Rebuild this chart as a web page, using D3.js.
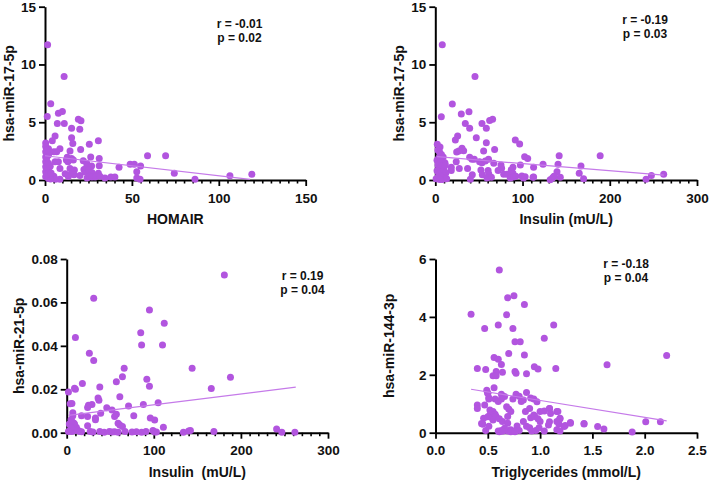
<!DOCTYPE html>
<html>
<head>
<meta charset="utf-8">
<script src="https://cdn.jsdelivr.net/npm/d3@7"></script>
<style>
  html, body { margin: 0; padding: 0; background: #fff; }
  svg { display: block; }
  text { font-family: "Liberation Sans", Arial, Helvetica, sans-serif; font-weight: bold; fill: #111; }
</style>
</head>
<body>
<svg id="chart" width="709" height="480"></svg>
<script>
// ---------- DATA ----------
// Panel A: HOMAIR vs hsa-miR-17-5p
const homaX = [1.5, 11, 3.3, 1.3, 7.7, 10, 19.2, 20.7, 7.1, 11.1, 15.3, 20, 5.8, 4.2, 15.3, 16, 30.7, 25.5, 0.4, 0.4, 0.4, 0.4, 0.4, 0.4, 0.4, 0.4, 2, 2, 2, 2, 2, 8.6, 6.7, 14.4, 20.5, 5.1, 12.8, 15.3, 16.3, 26.3, 31.2, 22, 24, 5.8, 7.7, 12.3, 13.2, 59, 69.4, 49, 51.4, 55, 42.6, 31.2, 26.8, 16.9, 14.4, 8.6, 22.4, 23, 24, 25.2, 27, 30.7, 11.6, 15, 16.7, 20.1, 52.8, 74.4, 86.3, 106.4, 119, 8.6, 13.4, 24.2, 25.7, 27, 28.9, 31.6, 34.5, 37.9, 40.2, 52.8, 54.7, 5.1, 6, 3.2, 1, 1.2, 3, 1, 3.5, 2.5, 1];
const mir17aY = [11.7, 8.95, 6.6, 5.5, 5.77, 5.92, 5.25, 5.13, 4.9, 4.9, 4.47, 4.4, 3.8, 3.4, 3.66, 3.17, 3.4, 3.09, 3.2, 2.9, 2.45, 2.0, 1.58, 1.15, 0.72, 0.29, 2.7, 2.16, 1.44, 0.86, 0.14, 2.7, 2.45, 2.5, 2.65, 2.45, 1.96, 1.87, 1.73, 2.0, 1.87, 1.67, 1.44, 1.58, 1.58, 1.73, 1.58, 2.1, 2.1, 1.36, 1.36, 1.21, 1.1, 1.24, 1.21, 0.87, 1.0, 1.0, 0.9, 0.7, 1.1, 0.87, 0.64, 0.58, 0.55, 0.52, 0.46, 0.4, 0.72, 0.58, 0.06, 0.37, 0.49, 0.06, 0.3, 0.17, 0.32, 0.26, 0.26, 0.32, 0.17, 0.26, 0.26, 0.17, 0.06, 0.32, 0.06, 0.09, 1.9, 1.0, 1.2, 0.5, 0.6, 2.4, 2.6];
const homaFitX = [0, 118];
const homaFitY = [2.1, 0.05];

// Panel B: Insulin vs hsa-miR-17-5p
const ins1X = [8, 45.5, 19.5, 6.9, 29.8, 38.6, 34.4, 39.4, 53.5, 58.5, 62.3, 65.7, 25.6, 23, 47, 58.5, 91.7, 96.7, 2.3, 5.4, 30.6, 32.5, 24.5, 27, 55.4, 68, 39.4, 42, 44.7, 24, 50.8, 53.5, 57.3, 61, 67, 102.4, 105.9, 142, 189, 75.3, 76, 89, 97.5, 112.7, 123.5, 140.7, 167, 18.3, 18.3, 27.5, 37, 52.3, 60.5, 61.3, 72, 78.4, 82.2, 87, 89, 139.5, 165, 42.4, 53.9, 40.2, 59.3, 64.3, 85.9, 89.7, 92.3, 99.2, 101.1, 112.7, 131.7, 134.4, 136.3, 143.3, 170, 247.7, 261.8, 241.6, 135.7, 112, 103, 3, 5, 7, 9, 4, 2, 6, 11, 3, 8, 5, 10, 2, 7, 12, 4, 9, 6, 3, 11, 8, 13, 1, 5, 11.5];
const mir17bY = [11.7, 8.95, 6.58, 5.48, 5.71, 5.9, 4.9, 4.47, 4.9, 4.47, 5.14, 5.25, 3.81, 3.46, 3.66, 3.23, 3.46, 3.12, 3.1, 2.85, 2.74, 2.54, 2.42, 2.5, 2.51, 2.65, 1.96, 1.79, 1.79, 1.58, 1.58, 1.5, 1.65, 1.79, 1.44, 2.02, 1.87, 2.1, 2.1, 1.3, 1.01, 1.1, 1.3, 1.1, 1.36, 1.36, 1.21, 1.1, 0.82, 1.0, 1.0, 0.87, 0.82, 0.53, 0.82, 0.5, 0.5, 0.87, 0.58, 0.72, 0.58, 0.46, 0.46, 0.06, 0.17, 0.23, 0.17, 0.26, 0.32, 0.35, 0.17, 0.26, 0.02, 0.17, 0.32, 0.23, 0.1, 0.4, 0.49, 0.06, 0.29, 0.23, 0.29, 2.6, 2.4, 2.2, 2.0, 1.9, 1.7, 1.6, 1.5, 1.3, 1.2, 1.0, 0.9, 0.8, 0.7, 0.6, 0.5, 0.4, 0.3, 0.2, 0.15, 0.05, 0.1, 0.1, 0.05, 1.3];
const ins1FitX = [2, 262];
const ins1FitY = [2.02, 0.43];

// Panel C: Insulin vs hsa-miR-21-5p
const ins2X = [181, 31, 95, 112, 85, 86, 110, 10, 26, 31, 66, 144, 64, 188, 92, 57, 95, 166, 18, 38, 9, 10, 2, 61, 36, 37, 4, 6, 29, 25, 24, 71, 88, 105, 46, 52, 57, 55, 77, 39, 7, 7, 17, 24, 33, 33, 96, 101, 59, 61, 64, 24, 111, 3, 5, 6, 7, 8, 9, 10, 4, 6, 11, 12, 8, 5, 13, 15, 2, 241, 247, 262, 169, 134, 140, 142, 99, 101, 17, 27, 30, 38, 43, 49, 52, 55, 59, 67, 75, 80, 86, 91, 103];
const mir21Y = [0.0726, 0.0619, 0.0565, 0.0504, 0.046, 0.0404, 0.0404, 0.0439, 0.0366, 0.0332, 0.0297, 0.0297, 0.0258, 0.0255, 0.0246, 0.0235, 0.0214, 0.0204, 0.0227, 0.021, 0.0205, 0.020, 0.0187, 0.0165, 0.016, 0.015, 0.0133, 0.0135, 0.013, 0.0126, 0.0116, 0.0123, 0.013, 0.0138, 0.0115, 0.0105, 0.0085, 0.0075, 0.0078, 0.009, 0.0092, 0.0078, 0.0078, 0.0075, 0.0068, 0.006, 0.0068, 0.0058, 0.0043, 0.0035, 0.0028, 0.0032, 0.0025, 0.004, 0.006, 0.005, 0.003, 0.002, 0.004, 0.001, 0.001, 0.0005, 0.0025, 0.0015, 0.0045, 0.0025, 0.001, 0.0005, 0.0005, 0.0017, 0.0002, 0.0002, 0.0005, 0.0002, 0.0008, 0.001, 0.001, 0.0003, 0.0004, 0.0006, 0.0003, 0.0005, 0.0002, 0.0006, 0.0003, 0.0004, 0.0002, 0.0005, 0.0003, 0.0004, 0.0002, 0.0005, 0.0003];
const ins2FitX = [2, 263];
const ins2FitY = [0.008, 0.021];

// Panel D: Triglycerides vs hsa-miR-144-3p
const tgX = [0.61, 0.69, 0.75, 0.85, 0.34, 0.68, 0.47, 0.6, 0.74, 1.13, 0.76, 0.81, 1.04, 0.7, 0.85, 0.56, 0.6, 0.63, 0.4, 0.48, 0.58, 0.64, 0.55, 0.58, 0.76, 0.77, 0.87, 0.945, 0.98, 1.15, 1.64, 2.21, 2.01, 2.15, 1.88, 1.61, 1.55, 1.42, 1.29, 1.23, 1.19, 1.18, 1.16, 1.09, 1.09, 0.49, 0.56, 0.5, 0.51, 0.63, 0.66, 0.63, 0.77, 0.8, 0.82, 0.84, 0.87, 0.91, 0.74, 0.57, 0.51, 0.4, 0.4, 0.47, 0.6, 0.7, 0.68, 0.72, 0.52, 0.55, 0.57, 0.52, 0.54, 0.55, 0.58, 0.61, 0.64, 0.46, 0.45, 0.69, 0.69, 0.78, 0.86, 0.9, 0.94, 0.97, 0.91, 0.94, 1.0, 1.04, 0.95, 0.98, 1.0, 1.09, 1.1, 1.17, 1.16, 1.08, 1.19, 1.24, 1.29, 1.42, 0.84, 0.87, 0.9, 0.92, 0.96, 0.99, 1.04, 1.16, 1.19, 0.76, 0.8, 0.69, 0.72, 0.6, 0.63, 0.66, 0.48, 0.51, 0.44, 0.5, 0.5, 0.45, 0.61, 0.64, 0.72, 0.76];
const mir144Y = [5.62, 4.66, 4.73, 4.43, 4.09, 4.07, 3.6, 3.72, 3.6, 3.72, 3.14, 3.14, 3.26, 2.74, 2.68, 2.6, 2.54, 2.36, 2.22, 2.18, 2.11, 2.09, 1.97, 1.97, 2.11, 2.05, 2.04, 2.28, 2.2, 2.22, 2.35, 2.67, 0.38, 0.38, 0.02, 0.13, 0.21, 0.32, 0.35, 0.21, 0.5, 0.3, 0.73, 0.84, 0.38, 1.47, 1.55, 1.36, 1.21, 1.33, 1.25, 1.16, 1.33, 1.26, 1.08, 1.13, 1.39, 1.2, 1.16, 1.16, 1.16, 0.96, 0.84, 0.96, 1.08, 0.82, 0.9, 0.73, 0.78, 0.73, 0.64, 0.61, 0.52, 0.44, 0.56, 0.48, 0.39, 0.5, 0.3, 0.56, 0.33, 0.23, 0.73, 0.84, 1.16, 1.07, 0.52, 0.61, 0.73, 0.75, 0.56, 0.48, 0.39, 0.84, 0.66, 0.73, 0.39, 0.27, 0.48, 0.25, 0.33, 0.3, 0.39, 0.22, 0.17, 0.06, 0.08, 0.17, 0.06, 0.1, 0.06, 0.06, 0.08, 0.06, 0.1, 0.06, 0.08, 0.15, 0.08, 0.22, 0.32, 0.55, 1.36, 0.3, 0.03, 0.05, 0.03, 0.03];
const tgFitX = [0.34, 2.21];
const tgFitY = [1.5, 0.41];

// Tick labels
const xTicksA = [0, 50, 100, 150];
const xTicksB = [0, 100, 200, 300];
const xTicksD = [0, 0.5, 1.0, 1.5, 2.0, 2.5];
const yTicks17 = [0, 5, 10, 15];
const yTicks21 = [0, 0.02, 0.04, 0.06, 0.08];
const yTicks144 = [0, 2, 4, 6];

// Labels
const xTitles = ["HOMAIR", "Insulin (mU/L)", "Insulin  (mU/L)", "Triglycerides (mmol/L)"];
const yTitles = ["hsa-miR-17-5p", "hsa-miR-17-5p", "hsa-miR-21-5p", "hsa-miR-144-3p"];
const rTexts = ["r = -0.01", "r = -0.19", "r = 0.19", "r = -0.18"];
const pTexts = ["p = 0.02", "p = 0.03", "p = 0.04", "p = 0.04"];

// ---------- DRAWING ----------
const svg = d3.select("#chart");
const dotColor = "#b255df";
const lineColor = "#c57ae9";

const panels = [
  { xs: homaX, ys: mir17aY, fx: homaFitX, fy: homaFitY, xTicks: xTicksA, yTicks: yTicks17, minor: 5,
    xr: [45, 305.7], yr: [180, 6.7], xFmt: d3.format("d"), yFmt: d3.format("d"),
    yTitleX: 9, statX: 239.5, statY: 23.3 },
  { xs: ins1X, ys: mir17bY, fx: ins1FitX, fy: ins1FitY, xTicks: xTicksB, yTicks: yTicks17, minor: 10,
    xr: [435.3, 697], yr: [180, 6.7], xFmt: d3.format("d"), yFmt: d3.format("d"),
    yTitleX: 399, statX: 645, statY: 19.3 },
  { xs: ins2X, ys: mir21Y, fx: ins2FitX, fy: ins2FitY, xTicks: xTicksB, yTicks: yTicks21, minor: 10,
    xr: [66.7, 328], yr: [432.7, 259], xFmt: d3.format("d"), yFmt: d3.format(".2f"),
    yTitleX: 19, statX: 302.5, statY: 276 },
  { xs: tgX, ys: mir144Y, fx: tgFitX, fy: tgFitY, xTicks: xTicksD, yTicks: yTicks144, minor: 0,
    xr: [435.5, 697], yr: [432.7, 259], xFmt: d3.format(".1f"), yFmt: d3.format("d"),
    yTitleX: 389, statX: 626, statY: 263.3 }
];

panels.forEach((p, i) => {
  const xMax = p.xTicks[p.xTicks.length - 1];
  const yMax = p.yTicks[p.yTicks.length - 1];
  const x = d3.scaleLinear().domain([0, xMax]).range(p.xr);
  const y = d3.scaleLinear().domain([0, yMax]).range(p.yr);
  const g = svg.append("g");

  // minor x ticks
  if (p.minor) {
    const minorVals = d3.range(0, xMax + 1e-9, p.minor).filter(v => !p.xTicks.includes(v));
    const gm = g.append("g").attr("transform", `translate(0,${p.yr[0]})`)
      .call(d3.axisBottom(x).tickValues(minorVals).tickSize(3.5).tickSizeOuter(0).tickFormat(""));
    gm.select(".domain").remove();
    gm.selectAll("line").attr("stroke", "#000").attr("stroke-width", 1.6);
  }

  // major x axis
  const gx = g.append("g").attr("transform", `translate(0,${p.yr[0]})`)
    .call(d3.axisBottom(x).tickValues(p.xTicks).tickSize(6).tickSizeOuter(0).tickPadding(7).tickFormat(p.xFmt));
  gx.select(".domain").attr("stroke", "#000").attr("stroke-width", 2);
  gx.selectAll("line").attr("stroke", "#000").attr("stroke-width", 1.8);
  gx.selectAll("text").attr("font-size", 13.5).attr("font-weight", "bold")
    .attr("font-family", "'Liberation Sans', Arial, sans-serif").attr("fill", "#111");

  // y axis
  const gy = g.append("g").attr("transform", `translate(${p.xr[0]},0)`)
    .call(d3.axisLeft(y).tickValues(p.yTicks).tickSize(6).tickSizeOuter(0).tickPadding(3).tickFormat(p.yFmt));
  gy.select(".domain").attr("stroke", "#000").attr("stroke-width", 2);
  gy.selectAll("line").attr("stroke", "#000").attr("stroke-width", 1.8);
  gy.selectAll("text").attr("font-size", 13.5).attr("font-weight", "bold")
    .attr("font-family", "'Liberation Sans', Arial, sans-serif").attr("fill", "#111");

  // points
  const pts = p.xs.map((v, k) => [v, p.ys[k]]);
  g.append("g").selectAll("circle").data(pts).join("circle")
    .attr("cx", d => x(d[0])).attr("cy", d => y(d[1])).attr("r", 3.5)
    .attr("fill", dotColor);

  // regression line
  const fit = p.fx.map((v, k) => [v, p.fy[k]]);
  g.append("path").datum(fit)
    .attr("d", d3.line().x(d => x(d[0])).y(d => y(d[1])))
    .attr("fill", "none").attr("stroke", lineColor).attr("stroke-width", 1.2);

  // axis titles
  const cx = (p.xr[0] + p.xr[1]) / 2;
  g.append("text").attr("x", cx).attr("y", p.yr[0] + 44)
    .attr("text-anchor", "middle").attr("font-size", 14).attr("xml:space", "preserve")
    .style("white-space", "pre").text(xTitles[i]);
  const cy = (p.yr[0] + p.yr[1]) / 2;
  g.append("text").attr("transform", `translate(${p.yTitleX + 4.5},${cy}) rotate(-90)`)
    .attr("text-anchor", "middle").attr("font-size", 14).text(yTitles[i]);

  // stats
  g.append("text").attr("x", p.statX).attr("y", p.statY + 4.3)
    .attr("text-anchor", "middle").attr("font-size", 12).text(rTexts[i]);
  g.append("text").attr("x", p.statX).attr("y", p.statY + 14 + 4.3)
    .attr("text-anchor", "middle").attr("font-size", 12).text(pTexts[i]);
});
</script>
</body>
</html>
